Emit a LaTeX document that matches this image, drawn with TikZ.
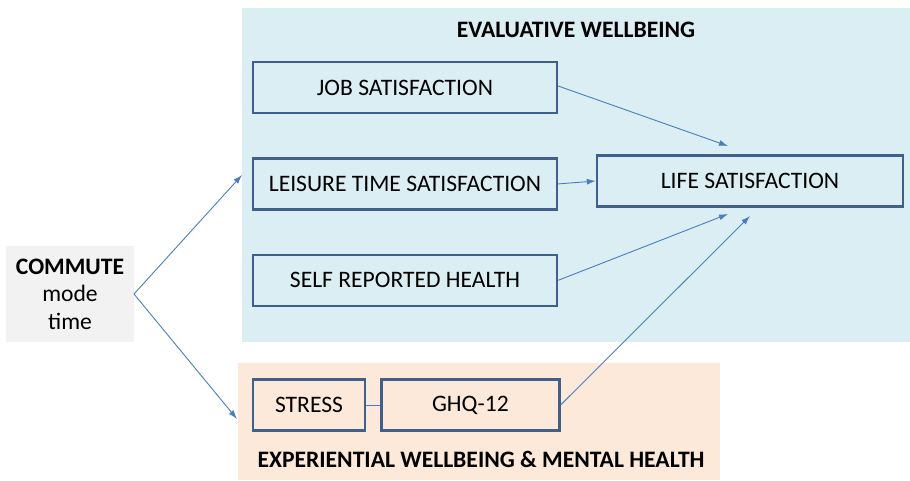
\documentclass[tikz,border=0pt]{standalone}
\usepackage{fontspec}
\setmainfont{Carlito}
\usetikzlibrary{positioning,arrows.meta}
\definecolor{evalblue}{HTML}{DAEEF3}
\definecolor{expbeige}{HTML}{FDE9D9}
\definecolor{commgray}{HTML}{F2F2F2}
\definecolor{boxline}{HTML}{3F5F8C}
\definecolor{arrline}{HTML}{4A7EBB}

\begin{document}
\begin{tikzpicture}[x=1pt, y=-1pt,
    every node/.style={font=\fontsize{23.6}{27.5}\selectfont, inner sep=0pt},
    factor/.style={draw=boxline, line width=2.4pt, rectangle, minimum height=51pt},
    link/.style={draw=arrline, line width=0.9pt, -{Latex[length=9pt,width=6pt]}}]
    \useasboundingbox (0,0) rectangle (910,480);

    % regions
    \fill[evalblue] (242,8) rectangle (910,342);
    \fill[expbeige] (238,363) rectangle (720,480);
    \fill[commgray] (6,246) rectangle (134,342);

    \node (evaltitle) at (576,30) {\bfseries EVALUATIVE WELLBEING};
    \node (exptitle) at (481,459) {\bfseries EXPERIENTIAL WELLBEING \& MENTAL HEALTH};

    \node[align=center] (commute) at (70,294) {\bfseries COMMUTE\\mode\\time};
    \coordinate (commout) at (134,294);

    \node[factor, minimum width=304pt] (job) at (405,87.5) {JOB SATISFACTION};
    \node[factor, minimum width=304pt, below=43pt of job] (leisure) {LEISURE TIME SATISFACTION};
    \node[factor, minimum width=304pt, below=43pt of leisure] (health) {SELF REPORTED HEALTH};

    \node[factor, minimum width=306pt] (life) at (750,181) {LIFE SATISFACTION};

    \node[factor, minimum width=112pt] (stress) at (309,405) {STRESS};
    \node[factor, minimum width=178pt, right=14pt of stress] (ghq) {GHQ-12};

    \coordinate (evalin) at (242,175);
    \coordinate (expin) at (237,419);
    \coordinate (lifeA) at (728,146);
    \coordinate (lifeB) at (728,214);
    \coordinate (lifeC) at (750,216);

    \draw[link] (commout) -- (evalin);
    \draw[link] (commout) -- (expin);

    \draw[link] (job.east |- 0,86) -- (lifeA);
    \draw[link] (leisure.east) -- (life.west);
    \draw[link] (health.east) -- (lifeB);
    \draw[link] (ghq.east) -- (lifeC);

    \draw[draw=arrline, line width=0.9pt] (stress) -- (ghq);
\end{tikzpicture}
\end{document}
